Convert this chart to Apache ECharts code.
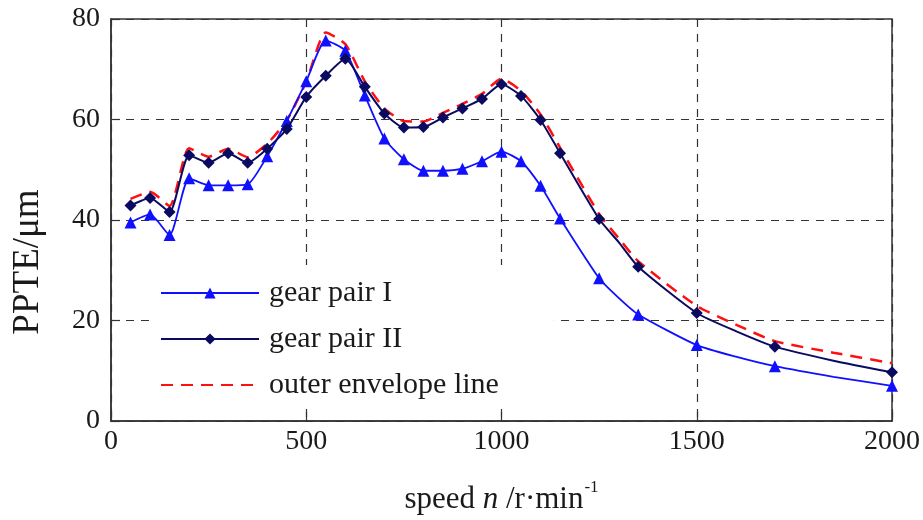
<!DOCTYPE html>
<html>
<head>
<meta charset="utf-8">
<script src="https://cdn.jsdelivr.net/npm/echarts@6/dist/echarts.min.js"></script>
<style>html,body{margin:0;padding:0;background:#fff;}#c{width:923px;height:520px;}</style>
</head>
<body>
<div id="c"></div>
<script>
var speeds = [50,100,150,200,250,300,350,400,450,500,550,600,650,700,750,800,850,900,950,1000,1050,1100,1150,1250,1300,1350,1500,1600,1700,1850,2000];
var unmarkedSpeeds = [1300,1600,1850];
var gearPairI = [39.5,41.1,37.0,48.3,46.9,46.9,47.1,52.7,59.7,67.6,75.7,73.7,64.8,56.2,52.1,49.8,49.8,50.2,51.7,53.6,51.7,46.8,40.3,28.4,24.5,21.2,15.1,12.8,10.9,8.8,7.0];
var gearPairII = [42.9,44.4,41.6,52.9,51.4,53.3,51.4,54.2,58.1,64.5,68.7,72.1,66.5,61.2,58.4,58.5,60.4,62.2,64.1,67.0,64.7,59.9,53.3,40.2,35.6,30.7,21.5,17.9,14.8,12.0,9.7];
var envelope = [44.2,45.6,42.8,54.3,52.6,54.2,52.5,55.2,59.8,67.5,77.3,75.0,67.6,62.2,59.7,59.6,61.3,63.1,65.1,68.1,65.7,61.0,54.4,41.2,36.4,31.8,22.9,19.2,15.9,13.6,11.5];
var seriesNames = ['gear pair I','gear pair II','outer envelope line'];
var xTicks = {min:0, max:2000, interval:500};
var yTicks = {min:0, max:80, interval:20};
var yTitle = 'PPTE/μm';

function pairs(vals, marked) {
  return speeds.map(function (s, i) {
    var item = {value: [s, vals[i]]};
    if (!marked || unmarkedSpeeds.indexOf(s) >= 0) item.symbol = 'none';
    return item;
  });
}

var FONT = '"Liberation Serif", "DejaVu Serif", serif';
var TXT = '#1a1a1a';
var chart = echarts.init(document.getElementById('c'), null, {renderer: 'canvas'});
chart.setOption({
  animation: false,
  backgroundColor: '#fff',
  textStyle: {fontFamily: FONT},
  grid: {left: 111, right: 30, top: 19, bottom: 96, show: true, borderColor: '#333', borderWidth: 1.5, backgroundColor: 'transparent'},
  xAxis: {
    type: 'value', min: xTicks.min, max: xTicks.max, interval: xTicks.interval,
    axisLine: {show: true, lineStyle: {color: '#333', width: 1.5}},
    axisTick: {show: true, inside: true, length: 9, lineStyle: {color: '#333', width: 1.2}},
    axisLabel: {fontFamily: FONT, fontSize: 28, color: TXT, margin: 7, formatter: function (v) { return String(v); }},
    splitLine: {show: true, lineStyle: {color: '#333', type: [8, 7], width: 1.2}},
    name: '{a|speed }{i|n}{a| /r·min}{s|-1}',
    nameLocation: 'middle', nameGap: 58,
    nameTextStyle: {
      rich: {
        a: {fontFamily: FONT, fontSize: 31, color: TXT, lineHeight: 36, verticalAlign: 'bottom'},
        i: {fontFamily: FONT, fontSize: 31, fontStyle: 'italic', color: TXT, lineHeight: 36, verticalAlign: 'bottom'},
        s: {fontFamily: FONT, fontSize: 17, color: TXT, lineHeight: 36, verticalAlign: 'top', padding: [0, 0, 0, 1]}
      }
    }
  },
  yAxis: {
    type: 'value', min: yTicks.min, max: yTicks.max, interval: yTicks.interval,
    axisLine: {show: true, lineStyle: {color: '#333', width: 1.5}},
    axisTick: {show: true, inside: true, length: 9, lineStyle: {color: '#333', width: 1.2}},
    axisLabel: {fontFamily: FONT, fontSize: 28, color: TXT, margin: 11},
    splitLine: {show: true, lineStyle: {color: '#333', type: [8, 7], width: 1.2}}
  },
  graphic: [{
    type: 'text', x: 28, y: 262, rotation: Math.PI / 2,
    style: {text: yTitle, font: '37px ' + FONT, fill: TXT, align: 'center', verticalAlign: 'middle'}
  }],
  legend: {
    orient: 'vertical', left: 150, top: 265,
    backgroundColor: '#fff',
    padding: [12, 55, 8, 10],
    itemGap: 14, itemWidth: 98, itemHeight: 14,
    textStyle: {fontFamily: FONT, fontSize: 30, color: TXT, lineHeight: 32, padding: [0, 0, 0, 5]},
    data: [
      {name: seriesNames[0]},
      {name: seriesNames[1]},
      {name: seriesNames[2], itemStyle: {opacity: 0}}
    ]
  },
  series: [
    {
      name: seriesNames[0], type: 'line', data: pairs(gearPairI, true),
      smooth: 0.2, symbol: 'triangle', symbolSize: 12,
      lineStyle: {color: '#1010ff', width: 1.8}, itemStyle: {color: '#1010ff'}, z: 3
    },
    {
      name: seriesNames[1], type: 'line', data: pairs(gearPairII, true),
      smooth: 0.2, symbol: 'diamond', symbolSize: 12,
      lineStyle: {color: '#0a0a60', width: 2}, itemStyle: {color: '#0a0a60'}, z: 4
    },
    {
      name: seriesNames[2], type: 'line', data: pairs(envelope, false),
      smooth: 0.2, symbol: 'none',
      lineStyle: {color: '#ff1010', width: 2.5, type: [12, 8]}, itemStyle: {color: '#ff1010'}, z: 2
    }
  ]
});
</script>
</body>
</html>
